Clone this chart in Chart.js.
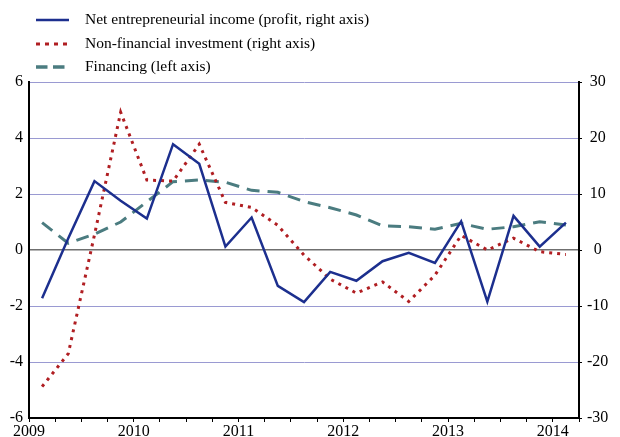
<!DOCTYPE html>
<html>
<head>
<meta charset="utf-8">
<script src="https://cdn.jsdelivr.net/npm/chart.js@4/dist/chart.umd.min.js"></script>
<style>
  html, body { margin: 0; padding: 0; background: #fff; }
  #wrap { width: 620px; height: 437px; }
</style>
</head>
<body>
<div id="wrap"><canvas id="profitChart" width="620" height="437"></canvas></div>
<script>
// quarterly data, 2009Q1 .. 2014Q1
const years = ['2009', '2010', '2011', '2012', '2013', '2014'];
const netIncome = [-8.6, 2.1, 12.3, 8.8, 5.6, 18.9, 15.4, 0.6, 5.8, -6.4, -9.3,
    -3.9, -5.5, -2.0, -0.5, -2.3, 5.1, -9.2, 6.1, 0.6, 4.9];
const investment = [-24.4, -18.5, 2.7, 24.6, 12.5, 12.3, 18.9, 8.5, 7.6, 4.4, -0.9,
    -5.2, -7.7, -5.7, -9.2, -4.5, 2.6, 0.0, 2.1, -0.3, -0.8];
const financing = [0.98, 0.24, 0.57, 1.0, 1.72, 2.44, 2.5, 2.42, 2.13, 2.06, 1.73,
    1.51, 1.25, 0.86, 0.83, 0.74, 0.95, 0.74, 0.83, 1.01, 0.89];
const legendLabels = ['Net entrepreneurial income (profit, right axis)',
    'Non-financial investment (right axis)', 'Financing (left axis)'];

const BLUE = '#1c2f8e';
const RED = '#b01e22';
const GREEN = '#4b7c80';
const SERIF = '"Liberation Serif", "Times New Roman", serif';

// points sit in the middle of each quarter
const toPoints = arr => arr.map((v, i) => ({ x: i + 0.5, y: v }));

// legend drawn at top left
const topLegend = {
    id: 'topLegend',
    afterDraw(chart) {
        const c = chart.ctx;
        const rows = [
            { y: 20, color: BLUE, width: 2.5, dash: [] },
            { y: 44, color: RED, width: 3, dash: [4, 5] },
            { y: 67, color: GREEN, width: 3.5, dash: [11.5, 5.5] }
        ];
        c.save();
        rows.forEach((r, i) => {
            c.beginPath();
            c.strokeStyle = r.color;
            c.lineWidth = r.width;
            c.setLineDash(r.dash);
            c.moveTo(36, r.y);
            c.lineTo(69, r.y);
            c.stroke();
            c.setLineDash([]);
            c.fillStyle = '#000';
            c.font = '15.5px ' + SERIF;
            c.textBaseline = 'middle';
            c.textAlign = 'left';
            c.fillText(legendLabels[i], 85, r.y);
        });
        c.restore();
    }
};

const whiteBg = {
    id: 'whiteBg',
    beforeDraw(chart) {
        const c = chart.ctx;
        c.save();
        c.fillStyle = '#fff';
        c.fillRect(0, 0, chart.width, chart.height);
        c.restore();
    }
};

const ctx = document.getElementById('profitChart').getContext('2d');

new Chart(ctx, {
    type: 'line',
    data: {
        datasets: [{
            label: legendLabels[0],
            data: toPoints(netIncome),
            yAxisID: 'y2',
            borderColor: BLUE,
            borderWidth: 2.5,
            pointRadius: 0,
            tension: 0
        }, {
            label: legendLabels[1],
            data: toPoints(investment),
            yAxisID: 'y2',
            borderColor: RED,
            borderWidth: 3,
            borderDash: [3, 5],
            pointRadius: 0,
            tension: 0
        }, {
            label: legendLabels[2],
            data: toPoints(financing),
            yAxisID: 'y',
            borderColor: GREEN,
            borderWidth: 3,
            borderDash: [13, 8],
            pointRadius: 0,
            tension: 0
        }]
    },
    options: {
        responsive: false,
        animation: false,
        devicePixelRatio: 1,
        layout: { padding: { top: 82, left: 0, right: 0, bottom: 0 } },
        plugins: {
            legend: { display: false },
            tooltip: { enabled: false }
        },
        scales: {
            x: {
                type: 'linear',
                min: 0,
                max: 21,
                afterBuildTicks: scale => {
                    scale.ticks = [];
                    for (let i = 0; i <= 21; i++) scale.ticks.push({ value: i });
                },
                afterFit: scale => { scale.height = 19; },
                border: { color: '#000', width: 2 },
                grid: { drawOnChartArea: false, tickLength: 4, color: '#000' },
                ticks: {
                    autoSkip: false,
                    maxRotation: 0,
                    padding: 0,
                    color: '#000',
                    font: { family: SERIF, size: 16 },
                    callback: v => (v % 4 === 0 ? years[v / 4] : '')
                }
            },
            y: {
                position: 'left',
                min: -6,
                max: 6,
                afterFit: scale => { scale.width = 29; },
                border: { color: '#000', width: 2 },
                grid: {
                    drawTicks: false,
                    color: c => (c.tick.value === 0 ? '#6f6f6f' : '#9a9ad2'),
                    lineWidth: c => (c.tick.value === 0 ? 1.5 : 1)
                },
                ticks: {
                    stepSize: 2,
                    padding: 6,
                    color: '#000',
                    font: { family: SERIF, size: 16 }
                }
            },
            y2: {
                position: 'right',
                min: -30,
                max: 30,
                afterFit: scale => { scale.width = 41; },
                border: { color: '#000', width: 2 },
                grid: { drawOnChartArea: false, tickLength: 3, color: '#000' },
                ticks: {
                    stepSize: 10,
                    padding: 5,
                    crossAlign: 'center',
                    color: '#000',
                    font: { family: SERIF, size: 16 }
                }
            }
        }
    },
    plugins: [whiteBg, topLegend]
});
</script>
</body>
</html>
